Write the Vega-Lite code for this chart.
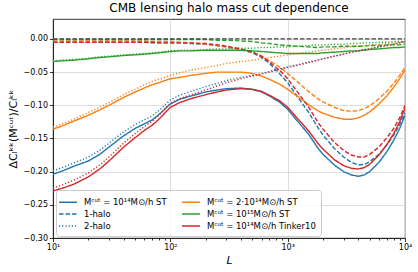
{
"$schema": "https://vega.github.io/schema/vega-lite/v6.json",
"autosize": {"type": "none"},
"padding": {"left": 53, "top": 19, "right": 13, "bottom": 34},
"width": 352, "height": 219,
"title": {"text": "CMB lensing halo mass cut dependence", "fontSize": 12, "font": "DejaVu Sans", "fontWeight": "normal", "offset": 4, "color": "black"},
"config": {"font": "DejaVu Sans", "view": {"stroke": "black", "strokeWidth": 0.8},
  "axis": {"domainColor": "black", "domainWidth": 0.8, "tickColor": "black", "tickWidth": 0.8, "labelColor": "black", "labelFontSize": 8, "labelFont": "DejaVu Sans", "titleColor": "black", "titleFontWeight": "normal", "titleFont": "DejaVu Sans", "gridColor": "#d4d4d4", "gridWidth": 0.8}},
"data": {"values": [
{"s":"b","L":10,"v":-0.204},{"s":"b","L":12,"v":-0.199},{"s":"b","L":15,"v":-0.192},{"s":"b","L":20,"v":-0.184},{"s":"b","L":25,"v":-0.174},{"s":"b","L":30,"v":-0.163},{"s":"b","L":40,"v":-0.146},{"s":"b","L":50,"v":-0.135},{"s":"b","L":60,"v":-0.128},{"s":"b","L":70,"v":-0.122},{"s":"b","L":80,"v":-0.114},{"s":"b","L":100,"v":-0.098},{"s":"b","L":120,"v":-0.091},{"s":"b","L":150,"v":-0.086},{"s":"b","L":200,"v":-0.080},{"s":"b","L":250,"v":-0.077},{"s":"b","L":300,"v":-0.075},{"s":"b","L":400,"v":-0.074},{"s":"b","L":500,"v":-0.076},{"s":"b","L":600,"v":-0.080},{"s":"b","L":700,"v":-0.086},{"s":"b","L":850,"v":-0.095},{"s":"b","L":1000,"v":-0.106},{"s":"b","L":1200,"v":-0.123},{"s":"b","L":1500,"v":-0.143},{"s":"b","L":1800,"v":-0.164},{"s":"b","L":2000,"v":-0.174},{"s":"b","L":2500,"v":-0.190},{"s":"b","L":3000,"v":-0.200},{"s":"b","L":3500,"v":-0.205},{"s":"b","L":4000,"v":-0.207},{"s":"b","L":4500,"v":-0.205},{"s":"b","L":5000,"v":-0.200},{"s":"b","L":6000,"v":-0.186},{"s":"b","L":7000,"v":-0.170},{"s":"b","L":8000,"v":-0.153},{"s":"b","L":9000,"v":-0.135},{"s":"b","L":10000,"v":-0.115},
{"s":"b1","L":10,"v":-0.005},{"s":"b1","L":12,"v":-0.005},{"s":"b1","L":15,"v":-0.005},{"s":"b1","L":20,"v":-0.005},{"s":"b1","L":25,"v":-0.005},{"s":"b1","L":30,"v":-0.005},{"s":"b1","L":40,"v":-0.005},{"s":"b1","L":50,"v":-0.005},{"s":"b1","L":60,"v":-0.005},{"s":"b1","L":70,"v":-0.006},{"s":"b1","L":80,"v":-0.006},{"s":"b1","L":100,"v":-0.006},{"s":"b1","L":120,"v":-0.006},{"s":"b1","L":150,"v":-0.007},{"s":"b1","L":200,"v":-0.008},{"s":"b1","L":250,"v":-0.010},{"s":"b1","L":300,"v":-0.012},{"s":"b1","L":400,"v":-0.016},{"s":"b1","L":500,"v":-0.021},{"s":"b1","L":600,"v":-0.028},{"s":"b1","L":700,"v":-0.037},{"s":"b1","L":850,"v":-0.052},{"s":"b1","L":1000,"v":-0.066},{"s":"b1","L":1200,"v":-0.086},{"s":"b1","L":1500,"v":-0.110},{"s":"b1","L":1800,"v":-0.133},{"s":"b1","L":2000,"v":-0.145},{"s":"b1","L":2500,"v":-0.165},{"s":"b1","L":3000,"v":-0.178},{"s":"b1","L":3500,"v":-0.186},{"s":"b1","L":4000,"v":-0.190},{"s":"b1","L":4500,"v":-0.189},{"s":"b1","L":5000,"v":-0.185},{"s":"b1","L":6000,"v":-0.174},{"s":"b1","L":7000,"v":-0.160},{"s":"b1","L":8000,"v":-0.145},{"s":"b1","L":9000,"v":-0.129},{"s":"b1","L":10000,"v":-0.111},
{"s":"b2","L":10,"v":-0.199},{"s":"b2","L":12,"v":-0.194},{"s":"b2","L":15,"v":-0.187},{"s":"b2","L":20,"v":-0.178},{"s":"b2","L":25,"v":-0.168},{"s":"b2","L":30,"v":-0.157},{"s":"b2","L":40,"v":-0.140},{"s":"b2","L":50,"v":-0.129},{"s":"b2","L":60,"v":-0.122},{"s":"b2","L":70,"v":-0.116},{"s":"b2","L":80,"v":-0.108},{"s":"b2","L":100,"v":-0.092},{"s":"b2","L":120,"v":-0.085},{"s":"b2","L":150,"v":-0.079},{"s":"b2","L":200,"v":-0.072},{"s":"b2","L":250,"v":-0.067},{"s":"b2","L":300,"v":-0.063},{"s":"b2","L":400,"v":-0.058},{"s":"b2","L":500,"v":-0.055},{"s":"b2","L":600,"v":-0.052},{"s":"b2","L":700,"v":-0.049},{"s":"b2","L":850,"v":-0.045},{"s":"b2","L":1000,"v":-0.042},{"s":"b2","L":1200,"v":-0.039},{"s":"b2","L":1500,"v":-0.035},{"s":"b2","L":1800,"v":-0.032},{"s":"b2","L":2000,"v":-0.030},{"s":"b2","L":2500,"v":-0.026},{"s":"b2","L":3000,"v":-0.023},{"s":"b2","L":3500,"v":-0.020},{"s":"b2","L":4000,"v":-0.018},{"s":"b2","L":4500,"v":-0.016},{"s":"b2","L":5000,"v":-0.015},{"s":"b2","L":6000,"v":-0.012},{"s":"b2","L":7000,"v":-0.010},{"s":"b2","L":8000,"v":-0.008},{"s":"b2","L":9000,"v":-0.006},{"s":"b2","L":10000,"v":-0.004},
{"s":"o","L":10,"v":-0.136},{"s":"o","L":12,"v":-0.131},{"s":"o","L":15,"v":-0.124},{"s":"o","L":20,"v":-0.115},{"s":"o","L":25,"v":-0.107},{"s":"o","L":30,"v":-0.100},{"s":"o","L":40,"v":-0.088},{"s":"o","L":50,"v":-0.080},{"s":"o","L":60,"v":-0.074},{"s":"o","L":70,"v":-0.069},{"s":"o","L":80,"v":-0.066},{"s":"o","L":100,"v":-0.060},{"s":"o","L":120,"v":-0.058},{"s":"o","L":150,"v":-0.055},{"s":"o","L":200,"v":-0.052},{"s":"o","L":250,"v":-0.050},{"s":"o","L":300,"v":-0.050},{"s":"o","L":400,"v":-0.050},{"s":"o","L":500,"v":-0.052},{"s":"o","L":600,"v":-0.056},{"s":"o","L":700,"v":-0.061},{"s":"o","L":850,"v":-0.068},{"s":"o","L":1000,"v":-0.076},{"s":"o","L":1200,"v":-0.086},{"s":"o","L":1500,"v":-0.099},{"s":"o","L":1800,"v":-0.108},{"s":"o","L":2000,"v":-0.112},{"s":"o","L":2500,"v":-0.118},{"s":"o","L":3000,"v":-0.121},{"s":"o","L":3500,"v":-0.121},{"s":"o","L":4000,"v":-0.119},{"s":"o","L":4500,"v":-0.115},{"s":"o","L":5000,"v":-0.110},{"s":"o","L":6000,"v":-0.098},{"s":"o","L":7000,"v":-0.086},{"s":"o","L":8000,"v":-0.073},{"s":"o","L":9000,"v":-0.060},{"s":"o","L":10000,"v":-0.047},
{"s":"o1","L":10,"v":-0.003},{"s":"o1","L":12,"v":-0.003},{"s":"o1","L":15,"v":-0.003},{"s":"o1","L":20,"v":-0.003},{"s":"o1","L":25,"v":-0.003},{"s":"o1","L":30,"v":-0.003},{"s":"o1","L":40,"v":-0.003},{"s":"o1","L":50,"v":-0.003},{"s":"o1","L":60,"v":-0.003},{"s":"o1","L":70,"v":-0.004},{"s":"o1","L":80,"v":-0.004},{"s":"o1","L":100,"v":-0.004},{"s":"o1","L":120,"v":-0.005},{"s":"o1","L":150,"v":-0.006},{"s":"o1","L":200,"v":-0.008},{"s":"o1","L":250,"v":-0.010},{"s":"o1","L":300,"v":-0.012},{"s":"o1","L":400,"v":-0.016},{"s":"o1","L":500,"v":-0.020},{"s":"o1","L":600,"v":-0.026},{"s":"o1","L":700,"v":-0.033},{"s":"o1","L":850,"v":-0.042},{"s":"o1","L":1000,"v":-0.052},{"s":"o1","L":1200,"v":-0.064},{"s":"o1","L":1500,"v":-0.079},{"s":"o1","L":1800,"v":-0.090},{"s":"o1","L":2000,"v":-0.095},{"s":"o1","L":2500,"v":-0.103},{"s":"o1","L":3000,"v":-0.108},{"s":"o1","L":3500,"v":-0.109},{"s":"o1","L":4000,"v":-0.108},{"s":"o1","L":4500,"v":-0.105},{"s":"o1","L":5000,"v":-0.101},{"s":"o1","L":6000,"v":-0.090},{"s":"o1","L":7000,"v":-0.079},{"s":"o1","L":8000,"v":-0.067},{"s":"o1","L":9000,"v":-0.055},{"s":"o1","L":10000,"v":-0.043},
{"s":"o2","L":10,"v":-0.133},{"s":"o2","L":12,"v":-0.128},{"s":"o2","L":15,"v":-0.121},{"s":"o2","L":20,"v":-0.111},{"s":"o2","L":25,"v":-0.103},{"s":"o2","L":30,"v":-0.096},{"s":"o2","L":40,"v":-0.084},{"s":"o2","L":50,"v":-0.076},{"s":"o2","L":60,"v":-0.069},{"s":"o2","L":70,"v":-0.064},{"s":"o2","L":80,"v":-0.061},{"s":"o2","L":100,"v":-0.055},{"s":"o2","L":120,"v":-0.051},{"s":"o2","L":150,"v":-0.047},{"s":"o2","L":200,"v":-0.043},{"s":"o2","L":250,"v":-0.040},{"s":"o2","L":300,"v":-0.037},{"s":"o2","L":400,"v":-0.034},{"s":"o2","L":500,"v":-0.032},{"s":"o2","L":600,"v":-0.030},{"s":"o2","L":700,"v":-0.028},{"s":"o2","L":850,"v":-0.026},{"s":"o2","L":1000,"v":-0.024},{"s":"o2","L":1200,"v":-0.022},{"s":"o2","L":1500,"v":-0.020},{"s":"o2","L":1800,"v":-0.018},{"s":"o2","L":2000,"v":-0.017},{"s":"o2","L":2500,"v":-0.015},{"s":"o2","L":3000,"v":-0.013},{"s":"o2","L":3500,"v":-0.012},{"s":"o2","L":4000,"v":-0.011},{"s":"o2","L":4500,"v":-0.010},{"s":"o2","L":5000,"v":-0.009},{"s":"o2","L":6000,"v":-0.008},{"s":"o2","L":7000,"v":-0.007},{"s":"o2","L":8000,"v":-0.006},{"s":"o2","L":9000,"v":-0.005},{"s":"o2","L":10000,"v":-0.004},
{"s":"g","L":10,"v":-0.034},{"s":"g","L":12,"v":-0.033},{"s":"g","L":15,"v":-0.032},{"s":"g","L":20,"v":-0.030},{"s":"g","L":25,"v":-0.028},{"s":"g","L":30,"v":-0.027},{"s":"g","L":40,"v":-0.025},{"s":"g","L":50,"v":-0.024},{"s":"g","L":60,"v":-0.023},{"s":"g","L":70,"v":-0.022},{"s":"g","L":80,"v":-0.021},{"s":"g","L":100,"v":-0.019},{"s":"g","L":120,"v":-0.018},{"s":"g","L":150,"v":-0.018},{"s":"g","L":200,"v":-0.017},{"s":"g","L":250,"v":-0.017},{"s":"g","L":300,"v":-0.017},{"s":"g","L":400,"v":-0.017},{"s":"g","L":500,"v":-0.018},{"s":"g","L":600,"v":-0.019},{"s":"g","L":700,"v":-0.020},{"s":"g","L":850,"v":-0.021},{"s":"g","L":1000,"v":-0.022},{"s":"g","L":1200,"v":-0.022},{"s":"g","L":1500,"v":-0.022},{"s":"g","L":1800,"v":-0.022},{"s":"g","L":2000,"v":-0.021},{"s":"g","L":2500,"v":-0.020},{"s":"g","L":3000,"v":-0.019},{"s":"g","L":3500,"v":-0.018},{"s":"g","L":4000,"v":-0.018},{"s":"g","L":4500,"v":-0.017},{"s":"g","L":5000,"v":-0.016},{"s":"g","L":6000,"v":-0.015},{"s":"g","L":7000,"v":-0.014},{"s":"g","L":8000,"v":-0.013},{"s":"g","L":9000,"v":-0.013},{"s":"g","L":10000,"v":-0.012},
{"s":"g1","L":10,"v":-0.001},{"s":"g1","L":12,"v":-0.001},{"s":"g1","L":15,"v":-0.001},{"s":"g1","L":20,"v":-0.001},{"s":"g1","L":25,"v":-0.001},{"s":"g1","L":30,"v":-0.001},{"s":"g1","L":40,"v":-0.001},{"s":"g1","L":50,"v":-0.001},{"s":"g1","L":60,"v":-0.001},{"s":"g1","L":70,"v":-0.001},{"s":"g1","L":80,"v":-0.001},{"s":"g1","L":100,"v":-0.001},{"s":"g1","L":120,"v":-0.001},{"s":"g1","L":150,"v":-0.001},{"s":"g1","L":200,"v":-0.001},{"s":"g1","L":250,"v":-0.002},{"s":"g1","L":300,"v":-0.002},{"s":"g1","L":400,"v":-0.003},{"s":"g1","L":500,"v":-0.004},{"s":"g1","L":600,"v":-0.006},{"s":"g1","L":700,"v":-0.007},{"s":"g1","L":850,"v":-0.009},{"s":"g1","L":1000,"v":-0.010},{"s":"g1","L":1200,"v":-0.011},{"s":"g1","L":1500,"v":-0.012},{"s":"g1","L":1800,"v":-0.013},{"s":"g1","L":2000,"v":-0.012},{"s":"g1","L":2500,"v":-0.012},{"s":"g1","L":3000,"v":-0.011},{"s":"g1","L":3500,"v":-0.011},{"s":"g1","L":4000,"v":-0.011},{"s":"g1","L":4500,"v":-0.011},{"s":"g1","L":5000,"v":-0.010},{"s":"g1","L":6000,"v":-0.010},{"s":"g1","L":7000,"v":-0.009},{"s":"g1","L":8000,"v":-0.009},{"s":"g1","L":9000,"v":-0.009},{"s":"g1","L":10000,"v":-0.008},
{"s":"g2","L":10,"v":-0.033},{"s":"g2","L":12,"v":-0.032},{"s":"g2","L":15,"v":-0.031},{"s":"g2","L":20,"v":-0.029},{"s":"g2","L":25,"v":-0.027},{"s":"g2","L":30,"v":-0.026},{"s":"g2","L":40,"v":-0.024},{"s":"g2","L":50,"v":-0.023},{"s":"g2","L":60,"v":-0.022},{"s":"g2","L":70,"v":-0.021},{"s":"g2","L":80,"v":-0.020},{"s":"g2","L":100,"v":-0.018},{"s":"g2","L":120,"v":-0.017},{"s":"g2","L":150,"v":-0.017},{"s":"g2","L":200,"v":-0.016},{"s":"g2","L":250,"v":-0.015},{"s":"g2","L":300,"v":-0.015},{"s":"g2","L":400,"v":-0.014},{"s":"g2","L":500,"v":-0.014},{"s":"g2","L":600,"v":-0.013},{"s":"g2","L":700,"v":-0.013},{"s":"g2","L":850,"v":-0.012},{"s":"g2","L":1000,"v":-0.012},{"s":"g2","L":1200,"v":-0.011},{"s":"g2","L":1500,"v":-0.010},{"s":"g2","L":1800,"v":-0.009},{"s":"g2","L":2000,"v":-0.009},{"s":"g2","L":2500,"v":-0.008},{"s":"g2","L":3000,"v":-0.008},{"s":"g2","L":3500,"v":-0.007},{"s":"g2","L":4000,"v":-0.007},{"s":"g2","L":4500,"v":-0.006},{"s":"g2","L":5000,"v":-0.006},{"s":"g2","L":6000,"v":-0.005},{"s":"g2","L":7000,"v":-0.005},{"s":"g2","L":8000,"v":-0.004},{"s":"g2","L":9000,"v":-0.004},{"s":"g2","L":10000,"v":-0.004},
{"s":"r","L":10,"v":-0.229},{"s":"r","L":12,"v":-0.225},{"s":"r","L":15,"v":-0.219},{"s":"r","L":20,"v":-0.208},{"s":"r","L":25,"v":-0.196},{"s":"r","L":30,"v":-0.184},{"s":"r","L":40,"v":-0.163},{"s":"r","L":50,"v":-0.149},{"s":"r","L":60,"v":-0.138},{"s":"r","L":70,"v":-0.130},{"s":"r","L":80,"v":-0.121},{"s":"r","L":100,"v":-0.103},{"s":"r","L":120,"v":-0.096},{"s":"r","L":150,"v":-0.090},{"s":"r","L":200,"v":-0.084},{"s":"r","L":250,"v":-0.080},{"s":"r","L":300,"v":-0.077},{"s":"r","L":400,"v":-0.075},{"s":"r","L":500,"v":-0.076},{"s":"r","L":600,"v":-0.079},{"s":"r","L":700,"v":-0.085},{"s":"r","L":850,"v":-0.093},{"s":"r","L":1000,"v":-0.103},{"s":"r","L":1200,"v":-0.119},{"s":"r","L":1500,"v":-0.138},{"s":"r","L":1800,"v":-0.157},{"s":"r","L":2000,"v":-0.166},{"s":"r","L":2500,"v":-0.182},{"s":"r","L":3000,"v":-0.191},{"s":"r","L":3500,"v":-0.195},{"s":"r","L":4000,"v":-0.196},{"s":"r","L":4500,"v":-0.194},{"s":"r","L":5000,"v":-0.189},{"s":"r","L":6000,"v":-0.175},{"s":"r","L":7000,"v":-0.159},{"s":"r","L":8000,"v":-0.143},{"s":"r","L":9000,"v":-0.125},{"s":"r","L":10000,"v":-0.104},
{"s":"r1","L":10,"v":-0.005},{"s":"r1","L":12,"v":-0.005},{"s":"r1","L":15,"v":-0.005},{"s":"r1","L":20,"v":-0.005},{"s":"r1","L":25,"v":-0.005},{"s":"r1","L":30,"v":-0.005},{"s":"r1","L":40,"v":-0.005},{"s":"r1","L":50,"v":-0.005},{"s":"r1","L":60,"v":-0.005},{"s":"r1","L":70,"v":-0.005},{"s":"r1","L":80,"v":-0.006},{"s":"r1","L":100,"v":-0.006},{"s":"r1","L":120,"v":-0.006},{"s":"r1","L":150,"v":-0.006},{"s":"r1","L":200,"v":-0.007},{"s":"r1","L":250,"v":-0.009},{"s":"r1","L":300,"v":-0.011},{"s":"r1","L":400,"v":-0.015},{"s":"r1","L":500,"v":-0.020},{"s":"r1","L":600,"v":-0.026},{"s":"r1","L":700,"v":-0.035},{"s":"r1","L":850,"v":-0.047},{"s":"r1","L":1000,"v":-0.060},{"s":"r1","L":1200,"v":-0.079},{"s":"r1","L":1500,"v":-0.102},{"s":"r1","L":1800,"v":-0.125},{"s":"r1","L":2000,"v":-0.136},{"s":"r1","L":2500,"v":-0.156},{"s":"r1","L":3000,"v":-0.168},{"s":"r1","L":3500,"v":-0.175},{"s":"r1","L":4000,"v":-0.178},{"s":"r1","L":4500,"v":-0.178},{"s":"r1","L":5000,"v":-0.174},{"s":"r1","L":6000,"v":-0.163},{"s":"r1","L":7000,"v":-0.149},{"s":"r1","L":8000,"v":-0.135},{"s":"r1","L":9000,"v":-0.119},{"s":"r1","L":10000,"v":-0.100},
{"s":"r2","L":10,"v":-0.225},{"s":"r2","L":12,"v":-0.220},{"s":"r2","L":15,"v":-0.213},{"s":"r2","L":20,"v":-0.202},{"s":"r2","L":25,"v":-0.190},{"s":"r2","L":30,"v":-0.178},{"s":"r2","L":40,"v":-0.157},{"s":"r2","L":50,"v":-0.143},{"s":"r2","L":60,"v":-0.132},{"s":"r2","L":70,"v":-0.124},{"s":"r2","L":80,"v":-0.115},{"s":"r2","L":100,"v":-0.097},{"s":"r2","L":120,"v":-0.090},{"s":"r2","L":150,"v":-0.084},{"s":"r2","L":200,"v":-0.077},{"s":"r2","L":250,"v":-0.071},{"s":"r2","L":300,"v":-0.066},{"s":"r2","L":400,"v":-0.060},{"s":"r2","L":500,"v":-0.056},{"s":"r2","L":600,"v":-0.053},{"s":"r2","L":700,"v":-0.050},{"s":"r2","L":850,"v":-0.046},{"s":"r2","L":1000,"v":-0.043},{"s":"r2","L":1200,"v":-0.040},{"s":"r2","L":1500,"v":-0.036},{"s":"r2","L":1800,"v":-0.032},{"s":"r2","L":2000,"v":-0.030},{"s":"r2","L":2500,"v":-0.026},{"s":"r2","L":3000,"v":-0.023},{"s":"r2","L":3500,"v":-0.020},{"s":"r2","L":4000,"v":-0.018},{"s":"r2","L":4500,"v":-0.016},{"s":"r2","L":5000,"v":-0.015},{"s":"r2","L":6000,"v":-0.012},{"s":"r2","L":7000,"v":-0.010},{"s":"r2","L":8000,"v":-0.008},{"s":"r2","L":9000,"v":-0.006},{"s":"r2","L":10000,"v":-0.004},
{"s":"z","L":10,"v":0},{"s":"z","L":10000,"v":0}
]},
"mark": {"type": "line", "strokeWidth": 1.4, "clip": true},
"encoding": {
  "x": {"field": "L", "type": "quantitative",
    "scale": {"type": "log", "domain": [10, 10000], "nice": false},
    "axis": {"title": "L", "titleFontStyle": "italic", "titleFontSize": 11, "titlePadding": 3,
      "values": [10,20,30,40,50,60,70,80,90,100,200,300,400,500,600,700,800,900,1000,2000,3000,4000,5000,6000,7000,8000,9000,10000],
      "labelExpr": "datum.value == 10 ? '10¹' : datum.value == 100 ? '10²' : datum.value == 1000 ? '10³' : datum.value == 10000 ? '10⁴' : ''",
      "labelOverlap": false, "labelFlush": false, "labelPadding": 2,
      "tickSize": {"condition": {"test": "indexof([10,100,1000,10000], datum.value) >= 0", "value": 3.5}, "value": 2},
      "gridOpacity": {"condition": {"test": "indexof([10,100,1000,10000], datum.value) >= 0", "value": 1}, "value": 0}}},
  "y": {"field": "v", "type": "quantitative",
    "scale": {"domain": [-0.30, 0.03], "nice": false, "zero": false},
    "axis": {"title": "ΔCₗᵏᵏ(Mᶜᵘᵗ)/Cₗᵏᵏ", "titleFontSize": 11, "titlePadding": 4,
      "values": [-0.3,-0.25,-0.2,-0.15,-0.1,-0.05,0], "labelOverlap": false,
      "format": ".2f", "tickSize": 3.5, "labelPadding": 2}},
  "color": {"field": "s", "type": "nominal",
    "scale": {"domain": ["b","b1","b2","o","o1","o2","g","g1","g2","r","r1","r2","z"],
      "range": ["#1f77b4","#1f77b4","#1f77b4","#ff7f0e","#ff7f0e","#ff7f0e","#2ca02c","#2ca02c","#2ca02c","#d62728","#d62728","#d62728","#404040"]},
    "legend": {"values": ["b","b1","b2","o","g","r"], "columns": 2, "title": null, "orient": "none", "legendX": 3, "legendY": 171,
      "labelFontSize": 8.5, "labelColor": "black", "symbolType": "M-1.5,0H1.5", "symbolSize": 144, "symbolStrokeWidth": 1.4, "symbolFillColor": "transparent",
      "rowPadding": 0, "columnPadding": 12, "padding": 5, "fillColor": "rgba(255,255,255,0.8)", "strokeColor": "#cccccc", "cornerRadius": 3, "labelOffset": 9,
      "labelExpr": "datum.label == 'b' ? 'Mᶜᵘᵗ = 10¹⁴M⊙/h ST' : datum.label == 'o' ? 'Mᶜᵘᵗ = 2·10¹⁴M⊙/h ST' : datum.label == 'g' ? 'Mᶜᵘᵗ = 10¹⁵M⊙/h ST' : datum.label == 'r' ? 'Mᶜᵘᵗ = 10¹⁴M⊙/h Tinker10' : datum.label == 'b1' ? '1-halo' : datum.label == 'b2' ? '2-halo' : datum.label"}},
  "strokeDash": {"field": "s", "type": "nominal",
    "scale": {"domain": ["b","b1","b2","o","o1","o2","g","g1","g2","r","r1","r2","z"],
      "range": [[1,0],[4.5,2],[1.2,2],[1,0],[4.5,2],[1.2,2],[1,0],[4.5,2],[1.2,2],[1,0],[4.5,2],[1.2,2],[4.5,2]]},
    "legend": {"values": ["b","b1","b2","o","g","r"], "columns": 2, "title": null, "orient": "none", "legendX": 3, "legendY": 171,
      "labelFontSize": 8.5, "labelColor": "black", "symbolType": "M-1.5,0H1.5", "symbolSize": 144, "symbolStrokeWidth": 1.4, "symbolFillColor": "transparent",
      "rowPadding": 0, "columnPadding": 12, "padding": 5, "fillColor": "rgba(255,255,255,0.8)", "strokeColor": "#cccccc", "cornerRadius": 3, "labelOffset": 9,
      "labelExpr": "datum.label == 'b' ? 'Mᶜᵘᵗ = 10¹⁴M⊙/h ST' : datum.label == 'o' ? 'Mᶜᵘᵗ = 2·10¹⁴M⊙/h ST' : datum.label == 'g' ? 'Mᶜᵘᵗ = 10¹⁵M⊙/h ST' : datum.label == 'r' ? 'Mᶜᵘᵗ = 10¹⁴M⊙/h Tinker10' : datum.label == 'b1' ? '1-halo' : datum.label == 'b2' ? '2-halo' : datum.label"}}
}
}
